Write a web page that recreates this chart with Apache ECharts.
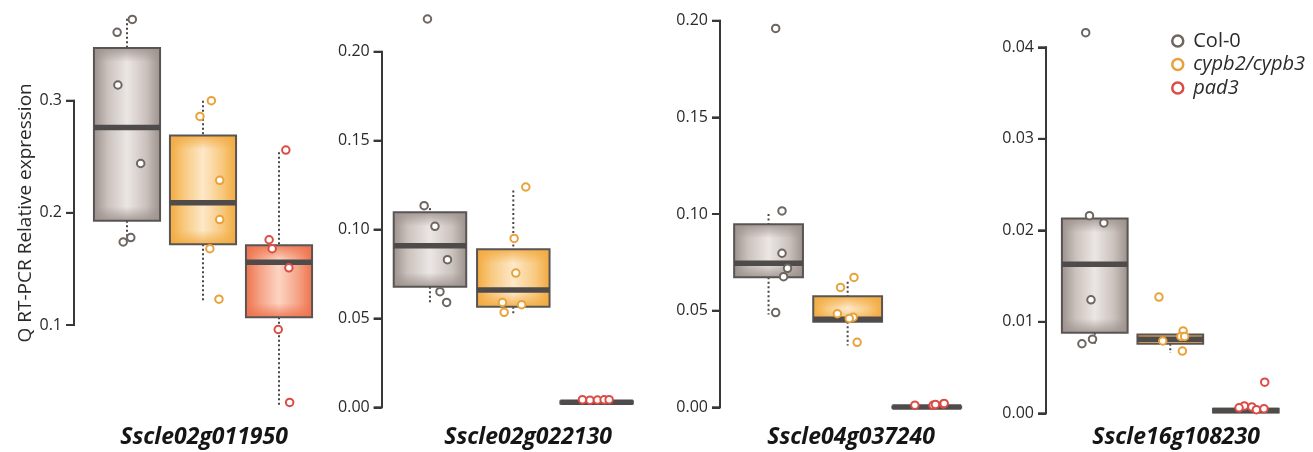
<!DOCTYPE html>
<html>
<head>
<meta charset="utf-8">
<script src="https://cdn.jsdelivr.net/npm/echarts@6/dist/echarts.min.js"></script>
<style>
  html, body { margin: 0; padding: 0; background: #fff; }
  #chart { width: 1313px; height: 452px; }
</style>
</head>
<body>
<div id="chart"></div>
<script>
// ---- data ---------------------------------------------------------------
const groups = ['Col-0', 'cypb2/cypb3', 'pad3'];
const genes = ['Sscle02g011950', 'Sscle02g022130', 'Sscle04g037240', 'Sscle16g108230'];
const yTitle = 'Q RT-PCR Relative expression';

// y-axis tick values per gene panel
const yTicks1 = [0.1, 0.2, 0.3];
const yTicks2 = [0, 0.05, 0.10, 0.15, 0.20];
const yTicks3 = [0, 0.05, 0.10, 0.15, 0.20];
const yTicks4 = [0, 0.01, 0.02, 0.03, 0.04];

// box statistics per group: [q1, median, q3, whisker low, whisker high]
const boxes1 = [[0.193, 0.276, 0.347, 0.176, 0.373], [0.172, 0.209, 0.269, 0.120, 0.300], [0.107, 0.156, 0.171, 0.029, 0.254]];
const boxes2 = [[0.0678, 0.0909, 0.1097, 0.058, 0.112], [0.0566, 0.0660, 0.0889, 0.052, 0.122], [0.0022, 0.0028, 0.0034, 0.0022, 0.0034]];
const boxes3 = [[0.0673, 0.0745, 0.0947, 0.048, 0.100], [0.0443, 0.0455, 0.0574, 0.032, 0.065], [-0.0002, 0.0001, 0.0004, -0.0002, 0.0004]];
const boxes4 = [[0.0088, 0.0163, 0.0213, 0.0074, 0.0213], [0.0076, 0.0081, 0.0086, 0.0066, 0.0086], [0.0001, 0.0003, 0.0005, 0.0001, 0.0005]];

// individual replicate measurements per group
const points1 = [
  [0.3725, 0.361, 0.314, 0.244, 0.178, 0.174],
  [0.300, 0.286, 0.229, 0.194, 0.168, 0.123],
  [0.256, 0.176, 0.168, 0.151, 0.096, 0.031]
];
const points2 = [
  [0.2184, 0.1134, 0.1018, 0.083, 0.065, 0.059],
  [0.1239, 0.095, 0.0755, 0.059, 0.0577, 0.0534],
  [0.0043, 0.0040, 0.0041, 0.0042, 0.0043]
];
const points3 = [
  [0.196, 0.1016, 0.0797, 0.0719, 0.0676, 0.049],
  [0.0672, 0.062, 0.0484, 0.0466, 0.046, 0.0336],
  [0.0011, 0.0010, 0.0015, 0.0017, 0.0020]
];
const points4 = [
  [0.0416, 0.0216, 0.0208, 0.0124, 0.0081, 0.0076],
  [0.0127, 0.0090, 0.0084, 0.0084, 0.0079, 0.0068],
  [0.0034, 0.0008, 0.0007, 0.0006, 0.0004, 0.0005]
];

// horizontal jitter of each replicate, in category units
const jitter1 = [
  [0.07, -0.13, -0.12, 0.18, 0.05, -0.05],
  [0.11, -0.04, 0.22, 0.22, 0.09, 0.21],
  [0.09, -0.13, -0.09, 0.13, -0.01, 0.14]
];
const jitter2 = [
  [-0.03, -0.07, 0.06, 0.21, 0.12, 0.20],
  [0.15, 0.01, 0.03, -0.13, 0.10, -0.11],
  [-0.17, -0.08, 0.01, 0.09, 0.15]
];
const jitter3 = [
  [0.09, 0.17, 0.17, 0.24, 0.19, 0.09],
  [0.08, -0.09, -0.13, 0.07, 0.02, 0.12],
  [-0.15, 0.08, 0.11, 0.21, 0.22]
];
const jitter4 = [
  [-0.12, -0.07, 0.12, -0.05, -0.03, -0.17],
  [-0.15, 0.17, 0.14, 0.19, -0.10, 0.16],
  [0.25, -0.02, 0.08, -0.09, 0.14, 0.24]
];

// ---- layout & style -----------------------------------------------------
const panels = [
  { ticks: yTicks1, boxes: boxes1, points: points1, jitter: jitter1, left: 89,    width: 228,   top: 100.7, bottom: 325,   axisOffset: 15,  labelX: 204 },
  { ticks: yTicks2, boxes: boxes2, points: points2, jitter: jitter2, left: 388.3, width: 250,   top: 51.7,  bottom: 407.3, axisOffset: 6.6, labelX: 528 },
  { ticks: yTicks3, boxes: boxes3, points: points3, jitter: jitter3, left: 729,   width: 237.3, top: 20.7,  bottom: 407.3, axisOffset: 9,   labelX: 851 },
  { ticks: yTicks4, boxes: boxes4, points: points4, jitter: jitter4, left: 1057,  width: 226.6, top: 47.3,  bottom: 413.3, axisOffset: 11,  labelX: 1176 }
];

const TICK_LEN = 8;
const pointColors = ['#6d6560', '#e9a23a', '#dc4c45'];
const boxShades = [
  { edge: '#9d928d', mid: '#cbc2be', center: '#ebe6e4' },
  { edge: '#f2aa40', mid: '#f8c97f', center: '#fde8c8' },
  { edge: '#ee734e', mid: '#f5a386', center: '#fcd4c2' }
];
const inkColor = '#3a3737';
const medianColor = '#4f4b4b';
const FONT = "'Open Sans', 'Noto Sans', sans-serif";
const TICK_FONT = "'Liberation Sans Narrow', 'Open Sans', sans-serif";

function hexA(hex, a) {
  const n = parseInt(hex.slice(1), 16);
  return 'rgba(' + ((n >> 16) & 255) + ',' + ((n >> 8) & 255) + ',' + (n & 255) + ',' + a + ')';
}

function renderBox(params, api) {
  const gi = api.value(0);
  const q1 = api.value(1), med = api.value(2), q3 = api.value(3);
  const lo = api.value(4), hi = api.value(5);
  const w = api.size([0.87, 0])[0];
  const cx = api.coord([gi, med])[0];
  const yMed = api.coord([gi, med])[1];
  const yQ1 = api.coord([gi, q1])[1];
  const yQ3 = api.coord([gi, q3])[1];
  const yLo = api.coord([gi, lo])[1];
  const yHi = api.coord([gi, hi])[1];
  const x0 = cx - w / 2;
  const h = Math.max(yQ1 - yQ3, 0.5);
  const shade = boxShades[gi];
  const sx = Math.min(0.45, 14 / w);
  const sy = Math.min(0.45, 14 / h);
  const children = [];
  const dotted = { stroke: '#4a4646', lineWidth: 2, lineDash: [2, 2.5] };
  if (yQ3 - yHi > 1) {
    children.push({ type: 'line', shape: { x1: cx, y1: yHi, x2: cx, y2: yQ3 }, style: dotted });
  }
  if (yLo - yQ1 > 1) {
    children.push({ type: 'line', shape: { x1: cx, y1: yQ1, x2: cx, y2: yLo }, style: dotted });
  }
  children.push({
    type: 'rect',
    shape: { x: x0, y: yQ3, width: w, height: h },
    style: {
      fill: {
        type: 'linear', x: 0, y: 0, x2: 1, y2: 0,
        colorStops: [
          { offset: 0, color: shade.edge },
          { offset: sx, color: shade.mid },
          { offset: 0.5, color: shade.center },
          { offset: 1 - sx, color: shade.mid },
          { offset: 1, color: shade.edge }
        ]
      }
    }
  });
  children.push({
    type: 'rect',
    shape: { x: x0, y: yQ3, width: w, height: h },
    style: {
      fill: {
        type: 'linear', x: 0, y: 0, x2: 0, y2: 1,
        colorStops: [
          { offset: 0, color: hexA(shade.edge, 0.85) },
          { offset: sy, color: hexA(shade.edge, 0) },
          { offset: 1 - sy, color: hexA(shade.edge, 0) },
          { offset: 1, color: hexA(shade.edge, 0.85) }
        ]
      }
    }
  });
  children.push({
    type: 'rect',
    shape: { x: x0, y: yQ3, width: w, height: h },
    style: { fill: 'none', stroke: '#5a5555', lineWidth: 2 }
  });
  children.push({
    type: 'line',
    shape: { x1: x0, y1: yMed, x2: x0 + w, y2: yMed },
    style: { stroke: medianColor, lineWidth: 5.5 }
  });
  return { type: 'group', children: children };
}

const grid = [], xAxis = [], yAxis = [], series = [], graphic = [];

panels.forEach(function (p, pi) {
  const ticks = p.ticks;
  const step = ticks[1] - ticks[0];
  const digits = pi === 0 ? 1 : 2;
  grid.push({ left: p.left, width: p.width, top: p.top, height: p.bottom - p.top });
  xAxis.push({ type: 'value', gridIndex: pi, min: -0.5, max: 2.5, show: false });
  yAxis.push({
    type: 'value', gridIndex: pi,
    min: ticks[0], max: ticks[ticks.length - 1], interval: step,
    offset: p.axisOffset,
    name: pi === 0 ? yTitle : '',
    nameLocation: 'middle', nameGap: 39, nameRotate: 90,
    nameTextStyle: { fontFamily: FONT, fontSize: 19, color: '#2a2a2a' },
    axisLine: { show: true, onZero: false, lineStyle: { color: inkColor, width: 2 } },
    axisTick: { show: true, inside: false, length: TICK_LEN, lineStyle: { color: inkColor, width: 2 } },
    axisLabel: {
      fontFamily: TICK_FONT, fontSize: 16, color: '#2a2a2a', margin: 12,
      formatter: function (v) { return v.toFixed(digits); }
    },
    splitLine: { show: false }
  });
  series.push({
    type: 'custom', xAxisIndex: pi, yAxisIndex: pi, clip: false, silent: true,
    renderItem: renderBox,
    encode: { x: 0, y: [1, 2, 3, 4, 5] },
    data: p.boxes.map(function (b, gi) { return [gi].concat(b); }),
    z: 2
  });
  groups.forEach(function (g, gi) {
    series.push({
      type: 'scatter', name: g, xAxisIndex: pi, yAxisIndex: pi, clip: false,
      symbol: 'circle', symbolSize: 7.5,
      itemStyle: { color: '#ffffff', borderColor: pointColors[gi], borderWidth: 2, opacity: 1 },
      data: p.points[gi].map(function (v, k) { return [gi + p.jitter[gi][k], v]; }),
      z: 5
    });
  });
  graphic.push({
    type: 'text', x: p.labelX, y: 437,
    style: {
      text: genes[pi], fill: '#151515',
      font: 'italic bold 23px ' + FONT,
      textAlign: 'center', textVerticalAlign: 'middle'
    }
  });
});

const chart = echarts.init(document.getElementById('chart'), null, { renderer: 'canvas' });
chart.setOption({
  backgroundColor: '#ffffff',
  animation: false,
  grid: grid, xAxis: xAxis, yAxis: yAxis, series: series, graphic: graphic,
  legend: {
    orient: 'vertical', left: 1166, top: 26,
    icon: 'circle', itemWidth: 11, itemHeight: 11, itemGap: 3.5,
    data: groups.map(function (g, gi) {
      return { name: g, itemStyle: { color: '#ffffff', borderColor: pointColors[gi], borderWidth: 2.5 } };
    }),
    formatter: function (name) { return name === 'Col-0' ? '{n|' + name + '}' : '{i|' + name + '}'; },
    textStyle: {
      fontFamily: FONT, fontSize: 20, color: '#2a2a2a', lineHeight: 20,
      rich: {
        n: { fontFamily: FONT, fontSize: 20, color: '#2a2a2a', lineHeight: 20, padding: [0, 0, 0, 5] },
        i: { fontFamily: FONT, fontSize: 20, fontStyle: 'italic', color: '#2a2a2a', lineHeight: 20, padding: [0, 0, 0, 5] }
      }
    }
  }
});

// outward tick marks on each offset axis, positioned through the axis scales
const tickMarks = [];
panels.forEach(function (p, pi) {
  const gridLeft = chart.convertToPixel({ xAxisIndex: pi }, -0.5);
  const ax = gridLeft - p.axisOffset;
  p.ticks.forEach(function (t) {
    const y = chart.convertToPixel({ yAxisIndex: pi }, t);
    tickMarks.push({
      type: 'line', z: 10, silent: true,
      shape: { x1: ax - TICK_LEN, y1: y, x2: ax + 1, y2: y },
      style: { stroke: inkColor, lineWidth: 2 }
    });
  });
});
chart.setOption({ graphic: graphic.concat(tickMarks) });
</script>
</body>
</html>
